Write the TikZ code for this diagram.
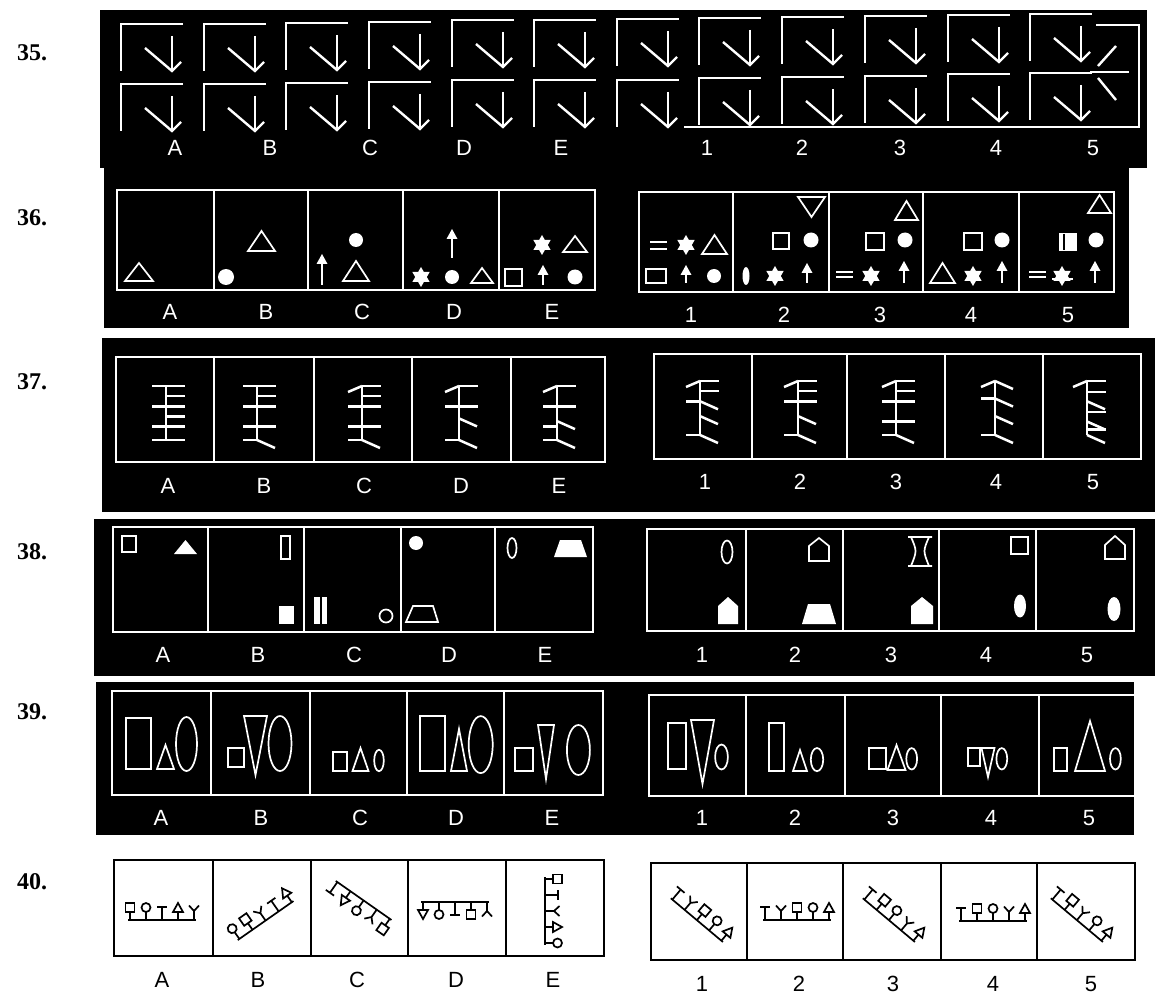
\documentclass[tikz,border=0pt]{standalone}
\usepackage{fontspec}
\newfontfamily\labfont{Liberation Sans}
\newfontfamily\numfont{Liberation Serif}
% row 35 corner cell
\newcommand\wcorner[2]{%
 \draw[cline] (#1,{#2+47}) -- (#1,#2) -- ({#1+62},#2);
 \draw[cline] ({#1+24},{#2+24}) -- ({#1+51},{#2+47}) -- ({#1+60},{#2+38});
 \draw[cline] ({#1+51},{#2+12}) -- ({#1+51},{#2+47});}
% white shapes
\newcommand\utri[4]{\draw[shp] (#1,#4) -- (#2,#4) -- ({(#1+#2)/2},#3) -- cycle;}
\newcommand\dtri[4]{\draw[shp] (#1,#3) -- (#2,#3) -- ({(#1+#2)/2},#4) -- cycle;}
\newcommand\wdisc[3]{\fill[white] (#1,#2) circle[radius=#3];}
\newcommand\wstar[3]{\fill[white] (#1,#2) +(90:#3) -- +(210:#3) -- +(330:#3) -- cycle (#1,#2) +(270:#3) -- +(30:#3) -- +(150:#3) -- cycle;}
\newcommand\warr[3]{\draw[shp] (#1,#3) -- (#1,{#2+8});
 \fill[white] (#1,#2) -- ({#1-5.5},{#2+10}) -- ({#1+5.5},{#2+10}) -- cycle;}
\newcommand\wsq[4]{\draw[shp] (#1,#2) rectangle (#3,#4);}
\newcommand\weq[4]{\draw[shp] (#1,#3) -- (#2,#3) (#1,#4) -- (#2,#4);}
% fishbone
\newcommand\fsp{\draw[fb] (0,0) -- (0,54);}
\newcommand\fLH[1]{\draw[fb] (-14,{13.5*#1}) -- (0,{13.5*#1});}
\newcommand\fRH[1]{\draw[fb] (0,{13.5*#1}) -- (19,{13.5*#1});}
\newcommand\fRS[1]{\draw[fb] (0,{13.5*#1}) -- (18,{13.5*#1+8});}
\newcommand\fLS[1]{\draw[fb] (0,{13.5*#1}) -- (-14,{13.5*#1+6});}
% row 40 glyphs
\newcommand\gbase{\draw[gl] (-34,8) -- (34,8);}
\newcommand\gS[1]{\draw[gl] (#1,8) -- (#1,0) ({#1-4.5},0) rectangle ({#1+4.5},-9);}
\newcommand\gC[1]{\draw[gl] (#1,8) -- (#1,0) (#1,-4.5) circle[radius=4.5];}
\newcommand\gT[1]{\draw[gl] (#1,8) -- (#1,-5) ({#1-5},-5) -- ({#1+5},-5);}
\newcommand\gA[1]{\draw[gl] (#1,8) -- (#1,0) ({#1-5},0) -- ({#1+5},0) -- (#1,-9) -- cycle;}
\newcommand\gY[1]{\draw[gl] (#1,8) -- (#1,-1) ({#1-5},-6.5) -- (#1,-1) -- ({#1+5},-6.5);}
\newcommand\gglyph[5]{\gbase #1{-32}#2{-16}#3{0}#4{16}#5{32}}
\begin{document}
\begin{tikzpicture}[x=1pt,y=-1pt,
  box/.style={draw=white,line width=1.8pt},
  shp/.style={draw=white,line width=1.7pt},
  cline/.style={draw=white,line width=2.4pt},
  fb/.style={draw=white,line width=2.5pt},
  bbox/.style={draw=black,line width=1.9pt},
  gl/.style={draw=black,line width=1.7pt},
  wlab/.style={font=\fontsize{22}{22}\selectfont\labfont,text=white,inner sep=0pt},
  blab/.style={font=\fontsize{22}{22}\selectfont\labfont,text=black,inner sep=0pt},
  qnum/.style={font=\fontsize{24}{24}\selectfont\numfont\bfseries,anchor=west,inner sep=0pt}]
\useasboundingbox (0,0) rectangle (1159,1000);
\fill[white] (0,0) rectangle (1159,1000);
% black backgrounds
\fill[black] (100,10) rectangle (1147,168);
\fill[black] (104,165) rectangle (1129,328);
\fill[black] (102,338) rectangle (1155,512);
\fill[black] (94,519) rectangle (1155,676);
\fill[black] (96,682) rectangle (1134,835);
% question numbers
\node[qnum] (q35) at (17,53) {35.};
\node[qnum] (q36) at (17,218) {36.};
\node[qnum] (q37) at (17,382) {37.};
\node[qnum] (q38) at (17,552) {38.};
\node[qnum] (q39) at (17,712) {39.};
\node[qnum] (q40) at (17,882) {40.};
% ---------- 35
\foreach \x/\t/\b in {121/24/84,204/24/84,286/23/83,369/22/82,452/20/80,534/20/80,617/19/80,699/18/78,782/17/77,865/16/76,948/15/74,1030/14/73}{\wcorner{\x}{\t}\wcorner{\x}{\b}}
\draw[cline] (684,127) -- (1139,127) -- (1139,25) -- (1096,25);
\draw[cline] (1098,66) -- (1116,46);
\draw[cline] (1090,72) -- (1129,72);
\draw[cline] (1098,78) -- (1116,100);
\foreach \n/\x in {A/175,B/270,C/370,D/464,E/561,1/707,2/802,3/900,4/996,5/1093}{\node[wlab] (l35\n) at (\x,148) {\n};}
% ---------- 36
\draw[box] (117,190) rectangle (595,290);
\foreach \x in {214,308,403,499}{\draw[box] (\x,190) -- (\x,290);}
\draw[box] (639,192) rectangle (1114,292);
\foreach \x in {733,829,923,1019}{\draw[box] (\x,192) -- (\x,292);}
\utri{125}{153}{263}{281}
\wdisc{226}{277}{8}\utri{248}{275}{231}{251}
\warr{322}{254}{285}\wdisc{356}{240}{7}\utri{343}{369}{261}{281}
\warr{452}{229}{258}\wstar{421}{277}{10}\wdisc{452}{277}{7}\utri{471}{493}{268}{283}
\wsq{505}{269}{522}{286}\warr{543}{265}{285}\wdisc{575}{277}{7.5}\wstar{542}{245}{10}\utri{563}{587}{236}{252}
\weq{650}{667}{242}{249}\wstar{686}{245}{10}\utri{702}{727}{235}{254}\wsq{646}{269}{666}{283}\warr{686}{265}{283}\wdisc{714}{276}{7}
\dtri{798}{825}{197}{217}\wsq{773}{233}{789}{249}\wdisc{811}{240}{7.5}\fill[white] (746,276) ellipse[x radius=3.5,y radius=9];\wstar{775}{276}{10}\warr{807}{263}{283}
\utri{895}{918}{201}{220}\wsq{866}{233}{884}{250}\wdisc{905}{240}{7.5}\weq{836}{853}{272}{277}\wstar{871}{276}{10}\warr{904}{261}{283}
\wsq{964}{233}{982}{250}\wdisc{1002}{240}{7.5}\utri{930}{955}{263}{283}\wstar{973}{276}{10}\warr{1002}{261}{283}
\utri{1088}{1111}{195}{213}\fill[white] (1059,233) rectangle (1077,251);\draw[black,line width=1.2pt] (1064,234) -- (1064,250);
\wdisc{1096}{240}{7.5}\weq{1029}{1046}{272}{277}\wstar{1062}{276}{10}\draw[shp] (1052,279) -- (1073,279);\warr{1095}{261}{283}
\foreach \n/\x in {A/170,B/266,C/362,D/454,E/552}{\node[wlab] (l36\n) at (\x,312) {\n};}
\foreach \n/\x in {1/691,2/784,3/880,4/971,5/1068}{\node[wlab] (l36\n) at (\x,315) {\n};}
% ---------- 37
\draw[box] (116,357) rectangle (605,462);
\foreach \x in {214,314,412,511}{\draw[box] (\x,357) -- (\x,462);}
\draw[box] (654,354) rectangle (1141,459);
\foreach \x in {752,847,945,1043}{\draw[box] (\x,354) -- (\x,459);}
\begin{scope}[shift={(166,386)}]\fsp\fLH{0}\fRH{0}\fRH{0.75}\fLH{1.5}\fRH{1.5}\fRH{2.25}\fLH{3}\fRH{3}\fLH{4}\fRH{4}\end{scope}
\begin{scope}[shift={(257,386)}]\fsp\fLH{0}\fRH{0}\fRH{0.75}\fLH{1.5}\fRH{1.5}\fLH{3}\fRH{3}\fLH{4}\fRS{4}\end{scope}
\begin{scope}[shift={(362,386)}]\fsp\fLS{0}\fRH{0}\fRH{0.75}\fLH{1.5}\fRH{1.5}\fLH{3}\fRH{3}\fLH{4}\fRS{4}\end{scope}
\begin{scope}[shift={(459,386)}]\fsp\fLS{0}\fRH{0}\fLH{1.5}\fRH{1.5}\fRS{2.4}\fLH{4}\fRS{4}\end{scope}
\begin{scope}[shift={(557,386)}]\fsp\fLS{0}\fRH{0}\fLH{1.5}\fRH{1.5}\fLH{3}\fRS{2.6}\fLH{4}\fRS{4}\end{scope}
\begin{scope}[shift={(700,381)}]\fsp\fLS{0}\fRH{0}\fRH{0.75}\fLH{1.5}\fRS{1.5}\fRS{2.6}\fLH{4}\fRS{4}\end{scope}
\begin{scope}[shift={(798,381)}]\fsp\fLS{0}\fRH{0}\fRH{0.75}\fLH{1.5}\fRH{1.5}\fRS{2.6}\fLH{4}\fRS{4}\end{scope}
\begin{scope}[shift={(896,381)}]\fsp\fLS{0}\fRH{0}\fRH{0.75}\fLH{1.5}\fRH{1.5}\fLH{3}\fRH{3}\fLH{4}\fRS{4}\end{scope}
\begin{scope}[shift={(995,381)}]\fsp\fLS{0}\fRS{0}\fLH{1.3}\fRS{1.3}\fRS{2.6}\fLH{4}\fRS{4}\end{scope}
\begin{scope}[shift={(1087,381)}]\fsp\fLS{0}\fRH{0}\fRH{0.8}\fRS{1.5}\fRH{2.3}\fRS{3}\fRH{3.6}\fRS{4}\end{scope}
\foreach \n/\x in {A/168,B/264,C/364,D/461,E/559}{\node[wlab] (l37\n) at (\x,486) {\n};}
\foreach \n/\x in {1/705,2/800,3/896,4/996,5/1093}{\node[wlab] (l37\n) at (\x,482) {\n};}
% ---------- 38
\draw[box] (113,527) rectangle (593,632);
\foreach \x in {208,304,401,495}{\draw[box] (\x,527) -- (\x,632);}
\draw[box] (647,529) rectangle (1134,631);
\foreach \x in {746,843,939,1036}{\draw[box] (\x,529) -- (\x,631);}
\wsq{122}{536}{136}{552}\fill[white] (174,554) -- (197,554) -- (185.5,540) -- cycle;
\wsq{281}{536}{290}{559}\fill[white] (279,606) rectangle (294,624);
\fill[white] (314,597) rectangle (320,624);\fill[white] (322,597) rectangle (327,624);\draw[shp] (386,616) circle[radius=6.5];
\wdisc{416}{543}{7}\draw[shp] (406,622) -- (413,606) -- (433,606) -- (438,622) -- cycle;
\draw[shp] (512,548) ellipse[x radius=4.5,y radius=10];\fill[white] (554,557) -- (560,540) -- (581,540) -- (587,557) -- cycle;
\draw[shp] (727,552) ellipse[x radius=5.5,y radius=11.5];\fill[white] (718,624) -- (718,606) -- (728,597) -- (738,606) -- (738,624) -- cycle;
\draw[shp] (809,561) -- (809,546) -- (819,538) -- (829,546) -- (829,561) -- cycle;\fill[white] (802,624) -- (808,604) -- (830,604) -- (836,624) -- cycle;
\draw[shp] (908,537) -- (932,537) (908,566) -- (932,566) (911,537) .. controls (917,551) .. (911,566) (929,537) .. controls (923,551) .. (929,566);
\fill[white] (911,624) -- (911,606) -- (922,597) -- (933,606) -- (933,624) -- cycle;
\wsq{1011}{537}{1028}{554}\fill[white] (1020,606) ellipse[x radius=6,y radius=11.5];
\draw[shp] (1105,559) -- (1105,545) -- (1115,536) -- (1125,545) -- (1125,559) -- cycle;\fill[white] (1114,609) ellipse[x radius=6.5,y radius=12];
\foreach \n/\x in {A/163,B/258,C/354,D/449,E/545,1/702,2/795,3/891,4/986,5/1087}{\node[wlab] (l38\n) at (\x,655) {\n};}
% ---------- 39
\draw[box] (112,691) rectangle (603,795);
\foreach \x in {211,310,407,504}{\draw[box] (\x,691) -- (\x,795);}
\draw[box] (1134,695) -- (649,695) -- (649,796) -- (1134,796);
\foreach \x in {746,845,941,1039}{\draw[box] (\x,695) -- (\x,796);}
\wsq{126}{718}{151}{769}\utri{157}{174}{745}{769}\draw[shp] (186.5,744) ellipse[x radius=10.5,y radius=27];
\wsq{228}{748}{244}{767}\dtri{244}{267}{716}{775}\draw[shp] (280,743.5) ellipse[x radius=11.5,y radius=27.5];
\wsq{333}{752}{347}{771}\utri{352.5}{368.5}{748}{771}\draw[shp] (379,760.5) ellipse[x radius=4.8,y radius=10.7];
\wsq{420}{716}{445}{771}\utri{451}{467}{729}{771}\draw[shp] (480.7,744.6) ellipse[x radius=12,y radius=28.5];
\wsq{515}{748}{533}{771}\dtri{538}{554}{725}{779}\draw[shp] (578.4,750) ellipse[x radius=11.5,y radius=25];
\wsq{668}{723}{686}{769}\dtri{691}{714}{720}{784}\draw[shp] (721.5,757) ellipse[x radius=6.4,y radius=12.5];
\wsq{769}{723}{784}{771}\utri{793}{807}{750}{771}\draw[shp] (817,759.6) ellipse[x radius=6.2,y radius=11.6];
\wsq{869}{748}{886}{769}\utri{887.5}{905.5}{745}{770}\draw[shp] (911.7,758.8) ellipse[x radius=5.4,y radius=10.7];
\wsq{968}{748}{980}{766}\dtri{981.5}{994.5}{748}{777}\draw[shp] (1001.8,758.8) ellipse[x radius=5.4,y radius=10.7];
\wsq{1054}{748}{1067}{771}\utri{1075}{1105}{721}{771}\draw[shp] (1115.4,758.8) ellipse[x radius=5.4,y radius=10.7];
\foreach \n/\x in {A/161,B/261,C/360,D/456,E/552,1/702,2/795,3/893,4/991,5/1089}{\node[wlab] (l39\n) at (\x,818) {\n};}
% ---------- 40
\draw[bbox] (114,860) rectangle (604,956);
\foreach \x in {213,311,408,506}{\draw[bbox] (\x,860) -- (\x,956);}
\draw[bbox] (651,863) rectangle (1135,960);
\foreach \x in {747,843,941,1037}{\draw[bbox] (\x,863) -- (\x,960);}
\begin{scope}[shift={(162,912)}]\gglyph{\gS}{\gC}{\gT}{\gA}{\gY}\end{scope}
\begin{scope}[shift={(261,914)},rotate=35]\gglyph{\gC}{\gS}{\gY}{\gT}{\gA}\end{scope}
\begin{scope}[shift={(359,907)},rotate=-35,yscale=-1]\gglyph{\gT}{\gA}{\gC}{\gY}{\gS}\end{scope}
\begin{scope}[shift={(455,910)},yscale=-1]\gglyph{\gA}{\gC}{\gT}{\gS}{\gY}\end{scope}
\begin{scope}[shift={(553,911)},rotate=-90]\gglyph{\gS}{\gT}{\gY}{\gA}{\gC}\end{scope}
\begin{scope}[shift={(702,914)},rotate=-40]\gglyph{\gT}{\gY}{\gS}{\gC}{\gA}\end{scope}
\begin{scope}[shift={(797,912)}]\gglyph{\gT}{\gY}{\gS}{\gC}{\gA}\end{scope}
\begin{scope}[shift={(894,914)},rotate=-40]\gglyph{\gT}{\gS}{\gC}{\gY}{\gA}\end{scope}
\begin{scope}[shift={(993,913)}]\gglyph{\gT}{\gS}{\gC}{\gY}{\gA}\end{scope}
\begin{scope}[shift={(1082,914)},rotate=-40]\gglyph{\gT}{\gS}{\gY}{\gC}{\gA}\end{scope}
\foreach \n/\x in {A/162,B/258,C/357,D/456,E/553}{\node[blab] (l40\n) at (\x,980) {\n};}
\foreach \n/\x in {1/702,2/799,3/893,4/993,5/1091}{\node[blab] (l40\n) at (\x,984) {\n};}
\end{tikzpicture}
\end{document}
